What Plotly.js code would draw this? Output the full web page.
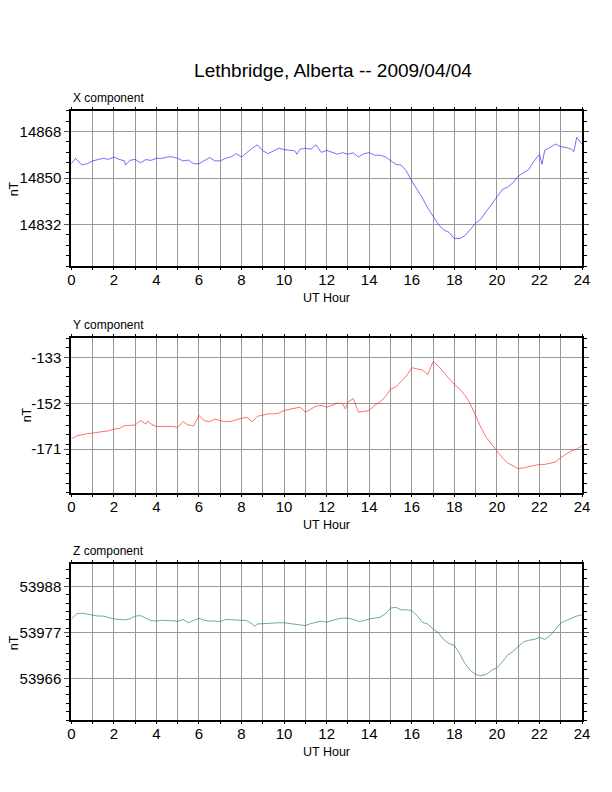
<!DOCTYPE html>
<html>
<head>
<meta charset="utf-8">
<script src="https://cdn.plot.ly/plotly-3.0.1.min.js"></script>
<style>
  html, body { margin: 0; padding: 0; background: #fff; }
  #chart { width: 612px; height: 792px; }
</style>
</head>
<body>
<div id="chart"></div>
<script>
// UT hour tick labels on every panel
const hourTicks = [0, 2, 4, 6, 8, 10, 12, 14, 16, 18, 20, 22, 24];

// y tick values per panel (nT)
const ticksX = [14832, 14850, 14868];
const ticksY = [-171, -152, -133];
const ticksZ = [53966, 53977, 53988];

// X component (nT)
const hoursX = [0, 0.2, 0.5, 0.75, 1, 1.25, 1.5, 1.75, 2, 2.25, 2.5, 2.55, 2.75, 3, 3.25, 3.5, 3.75, 4, 4.25, 4.5, 4.75,
    5, 5.25, 5.5, 5.75, 6, 6.25, 6.5, 6.75, 7, 7.25, 7.5, 7.75, 8, 8.25, 8.5, 8.75, 9, 9.25, 9.5, 9.75,
    10, 10.25, 10.5, 10.6, 10.75, 11, 11.25, 11.5, 11.75, 12, 12.25, 12.5, 12.75, 13, 13.25, 13.5, 13.75,
    14, 14.25, 14.5, 14.75, 15, 15.25, 15.5, 15.75, 16, 16.25, 16.5, 16.75, 17, 17.25, 17.5, 17.75,
    18, 18.25, 18.5, 18.75, 19, 19.25, 19.5, 19.75, 20, 20.25, 20.5, 20.75, 21, 21.25, 21.5, 21.75,
    22, 22.12, 22.25, 22.5, 22.75, 23, 23.25, 23.5, 23.62, 23.75, 24];
const valuesX = [14855.5, 14857.6, 14855.0, 14855.5, 14856.6, 14857.2, 14857.6, 14857.2, 14858.1, 14857.2, 14856.6, 14855.0,
    14856.8, 14857.2, 14855.9, 14857.1, 14856.8, 14857.6, 14857.6, 14858.1, 14858.2,
    14857.6, 14856.6, 14856.9, 14855.5, 14855.5, 14856.6, 14857.9, 14856.6, 14856.6, 14857.6, 14858.1, 14859.4,
    14858.1, 14859.8, 14861.5, 14862.8, 14860.5, 14859.4, 14860.5, 14861.5,
    14861.0, 14860.7, 14860.5, 14859.2, 14861.1, 14861.5, 14861.1, 14862.8, 14859.9, 14860.7, 14859.8, 14859.2,
    14859.8, 14859.2, 14859.7, 14858.1, 14859.4,
    14859.8, 14858.8, 14858.8, 14858.2, 14856.6, 14855.3, 14855.0, 14852.7, 14848.8, 14845.5, 14842.3, 14838.4,
    14835.1, 14832.1, 14829.9, 14829.0,
    14826.6, 14826.6, 14827.7, 14829.9, 14832.5, 14834.2, 14837.0, 14839.7, 14842.9, 14845.5, 14846.5, 14848.1,
    14850.7, 14852.0, 14853.3, 14856.6,
    14859.2, 14855.3, 14860.7, 14861.8, 14863.1, 14862.1, 14861.8, 14861.1, 14860.2, 14865.7, 14863.1];

// Y component (nT)
const hoursY = [0, 0.1, 0.25, 0.5, 0.75, 1, 1.25, 1.5, 1.75, 2, 2.25, 2.5, 2.75, 3, 3.25, 3.5, 3.6, 3.75, 4, 4.25, 4.5, 4.75,
    5, 5.25, 5.5, 5.75, 6, 6.25, 6.5, 6.75, 7, 7.25, 7.5, 7.75, 8, 8.25, 8.5, 8.75, 9, 9.25, 9.5, 9.75,
    10, 10.25, 10.5, 10.75, 11, 11.25, 11.5, 11.75, 12, 12.25, 12.5, 12.75, 12.88, 13, 13.25, 13.5, 13.75,
    14, 14.25, 14.5, 14.75, 15, 15.25, 15.5, 15.75, 16, 16.25, 16.5, 16.75, 17, 17.25, 17.5, 17.75,
    18, 18.25, 18.5, 18.75, 19, 19.25, 19.5, 19.75, 20, 20.25, 20.5, 20.75, 21, 21.25, 21.5, 21.75,
    22, 22.25, 22.5, 22.75, 23, 23.25, 23.5, 23.75, 24];
const valuesY = [-166.4, -166.3, -165.5, -164.9, -164.6, -164.3, -164.1, -163.6, -163.4, -162.7, -162.4, -161.3, -161.3,
    -161.0, -159.2, -160.6, -159.4, -160.6, -161.6, -161.6, -161.3, -161.6,
    -162.0, -159.6, -161.0, -161.3, -157.1, -159.2, -159.6, -158.5, -159.2, -159.6, -159.5, -158.8,
    -158.2, -157.8, -159.6, -157.4, -156.8, -156.4, -156.4, -156.1,
    -155.0, -154.6, -154.3, -153.6, -155.7, -154.6, -153.2, -152.9, -153.6, -152.9, -151.9, -152.2, -154.3,
    -151.5, -150.1, -155.7, -155.4,
    -155.0, -152.9, -151.5, -149.4, -146.2, -145.3, -143.2, -140.7, -137.3, -137.9, -138.3, -140.1,
    -134.8, -136.6, -139.3, -141.8,
    -144.3, -146.0, -148.7, -152.2, -157.1, -162.0, -166.1, -168.9, -171.7, -174.5, -176.6, -178.0,
    -179.1, -178.7, -178.3, -177.7,
    -177.3, -177.3, -176.9, -176.3, -174.5, -173.1, -171.7, -171.0, -169.6];

// Z component (nT)
const hoursZ = [0, 0.25, 0.5, 0.75, 1, 1.25, 1.5, 1.75, 2, 2.25, 2.5, 2.75, 3, 3.25, 3.5, 3.75, 4, 4.25, 4.5, 4.75,
    5, 5.25, 5.5, 5.75, 6, 6.25, 6.5, 6.75, 7, 7.25, 7.5, 7.75, 8, 8.25, 8.5, 8.62, 8.75, 9, 9.25, 9.5, 9.75,
    10, 10.25, 10.5, 10.75, 11, 11.25, 11.5, 11.75, 12, 12.25, 12.5, 12.75, 13, 13.25, 13.5, 13.75,
    14, 14.25, 14.5, 14.75, 15, 15.25, 15.5, 15.75, 16, 16.25, 16.5, 16.75, 17, 17.25, 17.5, 17.75,
    18, 18.25, 18.5, 18.75, 19, 19.25, 19.5, 19.75, 20, 20.25, 20.5, 20.75, 21, 21.25, 21.5, 21.75,
    22, 22.25, 22.5, 22.75, 23, 23.25, 23.5, 23.75, 24];
const valuesZ = [53980.2, 53981.4, 53981.6, 53981.4, 53981.2, 53980.9, 53980.9, 53980.5, 53980.2, 53980.1, 53980.0,
    53980.2, 53980.9, 53981.0, 53980.4, 53979.8, 53979.7, 53979.9, 53979.8, 53979.8,
    53979.6, 53980.1, 53979.3, 53979.8, 53980.4, 53979.9, 53979.7, 53979.7, 53979.6, 53980.1, 53980.0, 53979.9,
    53979.8, 53979.8, 53979.0, 53978.5, 53979.0, 53979.1, 53979.1, 53979.3, 53979.3,
    53979.3, 53979.1, 53978.9, 53978.8, 53978.6, 53979.1, 53979.4, 53979.7, 53979.4, 53979.8, 53980.2, 53980.4,
    53980.4, 53980.1, 53979.6, 53979.8,
    53980.2, 53980.4, 53980.6, 53981.4, 53982.8, 53983.0, 53982.4, 53982.4, 53982.2, 53981.0, 53979.4, 53979.0,
    53977.8, 53976.9, 53975.3, 53974.3,
    53973.9, 53971.9, 53969.5, 53967.9, 53966.9, 53966.6, 53966.9, 53967.9, 53968.5, 53969.9, 53971.5, 53972.4,
    53973.5, 53974.7, 53975.1, 53975.3,
    53975.8, 53975.3, 53976.2, 53977.8, 53979.2, 53979.8, 53980.4, 53980.9, 53981.2];

const W = 612, H = 792;
const FONT = 'Liberation Sans, Arial, Helvetica, sans-serif';

// panel frames in pixels
const X0 = 71.3, X1 = 582;
const panels = [
    { top: 110.7, bottom: 266, range: [14816, 14876], ticks: ticksX, minor: 4, label: 'X component' },
    { top: 338, bottom: 492.7, range: [-189, -125], ticks: ticksY, minor: 4, label: 'Y component' },
    { top: 564.3, bottom: 720, range: [53956, 53993.3], ticks: ticksZ, minor: 2, label: 'Z component' },
];

const xAxisBase = {
    range: [0, 24], tickvals: hourTicks, ticktext: hourTicks.map(String),
    ticks: 'outside', ticklen: 2, tickcolor: '#000', ticklabelstandoff: -3,
    showgrid: true, gridcolor: '#999', gridwidth: 1,
    minor: { dtick: 1, tick0: 0, showgrid: true, gridcolor: '#999', gridwidth: 1, ticks: 'outside', ticklen: 2, tickcolor: '#000' },
    showline: true, linecolor: '#000', linewidth: 2, mirror: 'ticks',
    zeroline: false, fixedrange: true, automargin: false,
    tickfont: { family: FONT, size: 15, color: '#000' },
};

const layout = {
    width: W, height: H,
    paper_bgcolor: '#fff', plot_bgcolor: '#fff',
    margin: { t: 0, b: 0, l: 0, r: 0 },
    showlegend: false,
    font: { family: FONT, color: '#000' },
    title: {
        text: 'Lethbridge, Alberta -- 2009/04/04',
        font: { family: FONT, size: 19, color: '#000' },
        x: 333 / W, y: 1 - 70 / H, xanchor: 'center', yanchor: 'middle', xref: 'paper', yref: 'paper',
    },
    annotations: [],
};

panels.forEach((p, i) => {
    const n = i === 0 ? '' : String(i + 1);
    layout['xaxis' + n] = { ...xAxisBase, domain: [X0 / W, X1 / W], anchor: 'y' + n };
    layout['yaxis' + n] = {
        domain: [1 - p.bottom / H, 1 - p.top / H], anchor: 'x' + n, range: p.range,
        tickvals: p.ticks, ticktext: p.ticks.map(String),
        ticks: 'outside', ticklen: 5, tickcolor: '#555',
        showgrid: true, gridcolor: '#999', gridwidth: 1,
        minor: { tick0: p.range[0], dtick: p.minor, ticks: 'outside', ticklen: 3, tickcolor: '#000', showgrid: false },
        showline: true, linecolor: '#000', linewidth: 2, mirror: 'ticks',
        zeroline: false, fixedrange: true, automargin: false,
        tickfont: { family: FONT, size: 15, color: '#000' },
    };
    layout.annotations.push(
        { text: p.label, xref: 'paper', yref: 'paper', x: X0 / W, y: 1 - (p.top - 13) / H,
          xanchor: 'left', yanchor: 'middle', showarrow: false, font: { family: FONT, size: 12 } },
        { text: 'UT Hour', xref: 'paper', yref: 'paper', x: (X0 + X1) / 2 / W, y: 1 - (p.bottom + 32) / H,
          xanchor: 'center', yanchor: 'middle', showarrow: false, font: { family: FONT, size: 12.5 } },
        { text: 'nT', xref: 'paper', yref: 'paper', x: (i === 1 ? 27 : 14) / W, y: 1 - (p.top + p.bottom) / 2 / H,
          xanchor: 'center', yanchor: 'middle', textangle: -90, showarrow: false, font: { family: FONT, size: 12.5 } }
    );
});

const traces = [
    { x: hoursX, y: valuesX, xaxis: 'x', yaxis: 'y', type: 'scatter', mode: 'lines', line: { color: '#3333ff', width: 0.7 } },
    { x: hoursY, y: valuesY, xaxis: 'x2', yaxis: 'y2', type: 'scatter', mode: 'lines', line: { color: '#ff3333', width: 0.7 } },
    { x: hoursZ, y: valuesZ, xaxis: 'x3', yaxis: 'y3', type: 'scatter', mode: 'lines', line: { color: '#2e8b57', width: 0.7 } },
];

Plotly.newPlot('chart', traces, layout, { displayModeBar: false, staticPlot: true });
</script>
</body>
</html>
